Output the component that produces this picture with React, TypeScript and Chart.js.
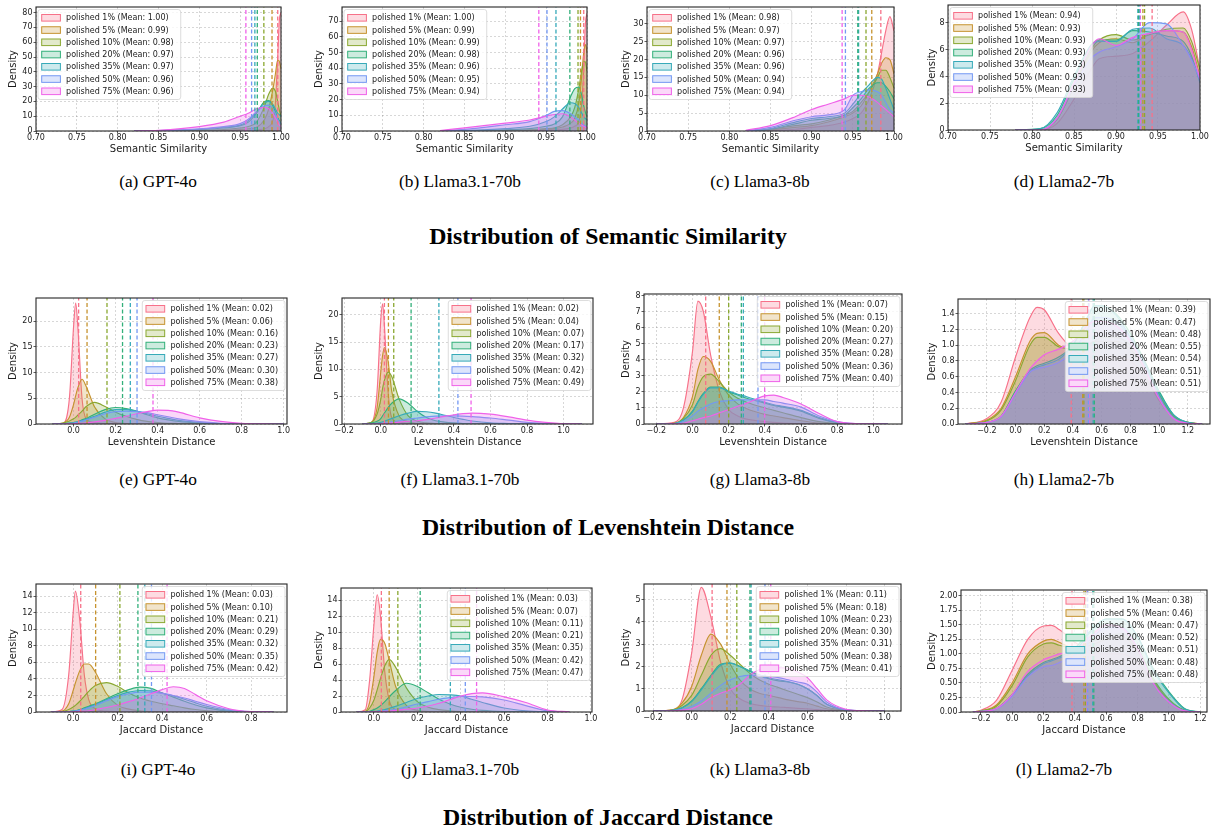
import React, { useEffect, useRef } from "react";
import { Chart, registerables } from "chart.js";
Chart.register(...registerables);

const FONT = '"DejaVu Sans", "Liberation Sans", sans-serif';
const SERIF = '"Liberation Serif", "Times New Roman", serif';
Chart.defaults.font.family = FONT;

const SERIES = ["polished 1%", "polished 5%", "polished 10%", "polished 20%", "polished 35%", "polished 50%", "polished 75%"];
const COLORS = ["#f77189", "#c6932f", "#8aa831", "#33b07a", "#37aab9", "#7498f3", "#f062e9"];

const CAPTIONS = ["(a) GPT-4o", "(b) Llama3.1-70b", "(c) Llama3-8b", "(d) Llama2-7b",
  "(e) GPT-4o", "(f) Llama3.1-70b", "(g) Llama3-8b", "(h) Llama2-7b",
  "(i) GPT-4o", "(j) Llama3.1-70b", "(k) Llama3-8b", "(l) Llama2-7b"];
const TITLES = ["Distribution of Semantic Similarity", "Distribution of Levenshtein Distance", "Distribution of Jaccard Distance"];
const X_TITLES = ["Semantic Similarity", "Levenshtein Distance", "Jaccard Distance"];

// x tick values
const SEM_XT = [0.7, 0.75, 0.8, 0.85, 0.9, 0.95, 1.0];
const E_XT = [0, 0.2, 0.4, 0.6, 0.8, 1.0];
const F_XT = [-0.2, 0, 0.2, 0.4, 0.6, 0.8, 1.0];
const H_XT = [-0.2, 0, 0.2, 0.4, 0.6, 0.8, 1.0, 1.2];
const I_XT = [0, 0.2, 0.4, 0.6, 0.8];

// ---------- (a) Semantic, GPT-4o
const A_X = [0.82, 0.85, 0.9, 0.93, 0.95, 0.96, 0.97, 0.98, 0.985, 0.99, 0.993, 0.996, 0.998, 1.0];
const A_D = [
  [0, 0, 0.2, 0.3, 0.5, 0.5, 0.8, 1.5, 3, 7, 18, 50, 75, 80],
  [0, 0, 0.3, 0.5, 1, 1.5, 2.5, 8, 15, 28, 38, 48, 47, 42],
  [0, 0.1, 0.5, 1, 2, 3, 6, 17, 25, 29, 27, 20, 14, 10],
  [0, 0.2, 1, 2, 3.5, 6, 12, 20, 20.5, 17, 13, 9, 7, 5],
  [0, 0.2, 1.2, 2.5, 4, 7, 13, 19, 20, 18, 15, 12, 11, 10],
  [0, 0.3, 1.5, 3, 5, 8, 13, 17, 17.5, 15, 12, 8, 6, 5],
  [0, 0.5, 3, 6, 10, 12, 15, 16, 15, 12, 9, 6, 4, 3],
];
const A_M = [0.996, 0.989, 0.979, 0.971, 0.968, 0.964, 0.957];
const A_YT = [0, 10, 20, 30, 40, 50, 60, 70, 80];

// ---------- (b) Semantic, Llama3.1-70b
const B_X = [0.82, 0.85, 0.9, 0.93, 0.95, 0.96, 0.97, 0.98, 0.985, 0.99, 0.993, 0.996, 0.998, 1.0];
const B_D = [
  [0, 0, 0.2, 0.4, 0.6, 0.8, 1, 2, 3, 6, 15, 40, 68, 75],
  [0, 0, 0.3, 0.5, 1, 1.5, 2.5, 5, 8, 18, 32, 50, 55, 50],
  [0, 0, 0.4, 0.8, 1.5, 2, 4, 9, 15, 27, 37, 44, 44, 38],
  [0, 0.2, 0.8, 1.5, 3, 4.5, 9, 22, 27, 28, 24, 16, 12, 9],
  [0, 0.3, 1.5, 3, 6, 9, 14, 18, 17.5, 15, 12, 9, 8, 7],
  [0, 1, 4, 6, 10, 12.5, 13, 11, 9, 7, 5, 4, 3, 3],
  [0.3, 2, 5, 7, 9.5, 10.5, 11, 9, 7, 5, 4, 3, 2.5, 2],
];
const B_M = [0.996, 0.992, 0.989, 0.979, 0.962, 0.951, 0.941];
const B_YT = [0, 10, 20, 30, 40, 50, 60, 70];

// ---------- (c) Semantic, Llama3-8b
const C_X = [0.82, 0.85, 0.88, 0.9, 0.92, 0.94, 0.95, 0.96, 0.97, 0.98, 0.985, 0.99, 0.995, 1.0];
const C_D = [
  [0, 0.2, 0.5, 1, 1.5, 2.5, 3.5, 5, 9, 16, 22, 28, 32, 28],
  [0, 0.3, 1, 1.5, 2.5, 4, 5, 7, 11, 16, 19, 20.5, 20, 16],
  [0, 0.5, 1.5, 2, 3, 4.5, 5.5, 8, 11, 15, 17, 17, 15, 12],
  [0, 0.5, 2, 3, 3.5, 4.5, 6.5, 9, 12, 13.5, 13.5, 12.5, 11, 9],
  [0, 0.7, 2.5, 3.5, 4, 5, 7.5, 10.5, 13, 15, 14.5, 12, 9, 6],
  [0, 1, 3, 4, 4.5, 6, 10, 11, 11.5, 11, 10, 8, 6, 5],
  [0.2, 1.5, 4, 6, 7.5, 9, 10, 10, 9.5, 8, 7, 6, 5, 4],
];
const C_M = [0.984, 0.973, 0.966, 0.956, 0.957, 0.941, 0.937];
const C_YT = [0, 5, 10, 15, 20, 25, 30];

// ---------- (d) Semantic, Llama2-7b
const D_X = [0.78, 0.81, 0.83, 0.85, 0.87, 0.88, 0.9, 0.92, 0.94, 0.96, 0.98, 0.99, 1.0];
const D_D = [
  [0, 0, 0.5, 2.3, 4.5, 5.3, 5.5, 5.7, 6.6, 7.8, 8.8, 7.5, 4.5],
  [0, 0, 0.8, 3.2, 5.8, 6.5, 6.8, 6.5, 7.2, 7.4, 7.3, 6.2, 4.0],
  [0, 0, 0.8, 3.3, 6, 6.7, 7.1, 6.7, 7.1, 7.5, 7.6, 6.6, 4.5],
  [0, 0.1, 1.1, 3.8, 6.3, 6.7, 6.7, 7.4, 7.3, 7, 6.6, 5.5, 3.5],
  [0, 0.1, 1.3, 4, 6.3, 6.6, 6.6, 7.5, 7.6, 6.8, 6.3, 5.3, 3.6],
  [0, 0, 0.9, 3.3, 5.3, 5.8, 6.2, 6.8, 8.0, 7.9, 6.3, 5.2, 3.8],
  [0, 0, 0.9, 3.5, 6.2, 6.8, 6.3, 6.9, 7.2, 7.4, 7.3, 6.0, 3.8],
];
const D_M = [0.943, 0.932, 0.934, 0.927, 0.926, 0.928, 0.929];
const D_YT = [0, 2, 4, 6, 8];

// ---------- (e) Levenshtein, GPT-4o
const E_X = [-0.1, -0.05, -0.02, 0, 0.01, 0.02, 0.04, 0.06, 0.1, 0.15, 0.2, 0.25, 0.3, 0.35, 0.4, 0.45, 0.5, 0.6, 0.7, 0.8, 0.9, 1.0];
const E_D = [
  [0, 0.1, 5, 19, 23.5, 19, 5, 1, 0.3, 0.1, 0.05, 0, 0, 0, 0, 0, 0, 0, 0, 0, 0, 0],
  [0, 0.2, 1.3, 3.8, 5.5, 7, 8.7, 7.3, 3.3, 1.0, 0.3, 0.1, 0, 0, 0, 0, 0, 0, 0, 0, 0, 0],
  [0, 0.2, 0.6, 1, 1.3, 1.7, 2.5, 3.4, 4.2, 3.4, 2.3, 1.5, 0.9, 0.5, 0.3, 0.15, 0.1, 0.03, 0, 0, 0, 0],
  [0, 0.1, 0.2, 0.3, 0.4, 0.5, 0.8, 1.1, 1.9, 2.8, 3.2, 3.0, 2.5, 1.8, 1.2, 0.8, 0.5, 0.2, 0.05, 0, 0, 0],
  [0, 0.05, 0.15, 0.2, 0.3, 0.4, 0.6, 0.9, 1.5, 2.3, 2.8, 2.8, 2.5, 2.0, 1.5, 1.1, 0.7, 0.3, 0.1, 0.02, 0, 0],
  [0, 0.05, 0.12, 0.2, 0.3, 0.4, 0.55, 0.8, 1.3, 2.0, 2.4, 2.5, 2.4, 2.2, 1.8, 1.4, 1.0, 0.45, 0.15, 0.05, 0, 0],
  [0, 0, 0.03, 0.05, 0.07, 0.1, 0.15, 0.25, 0.4, 0.7, 1.1, 1.5, 2.0, 2.4, 2.7, 2.65, 2.3, 1.2, 0.5, 0.15, 0.03, 0],
];
const E_M = [0.024, 0.064, 0.159, 0.233, 0.27, 0.302, 0.378];
const E_YT = [0, 5, 10, 15, 20];

// ---------- (f) Levenshtein, Llama3.1-70b
const F_X = [-0.1, -0.05, -0.02, 0, 0.01, 0.02, 0.04, 0.06, 0.1, 0.15, 0.2, 0.25, 0.3, 0.35, 0.4, 0.45, 0.5, 0.6, 0.7, 0.8, 0.9, 1.0, 1.1];
const F_D = [
  [0, 0.3, 6, 19, 22, 18, 6, 1.2, 0.3, 0.1, 0.05, 0, 0, 0, 0, 0, 0, 0, 0, 0, 0, 0, 0],
  [0, 0.3, 3, 9.5, 12.5, 14, 11.5, 6, 1.5, 0.4, 0.1, 0, 0, 0, 0, 0, 0, 0, 0, 0, 0, 0, 0],
  [0, 0.3, 1.8, 4.5, 6.5, 8, 9.5, 8.7, 4.6, 1.5, 0.5, 0.2, 0.1, 0, 0, 0, 0, 0, 0, 0, 0, 0, 0],
  [0, 0.2, 0.5, 1, 1.5, 2, 3, 3.8, 4.6, 3.8, 2.3, 1.2, 0.6, 0.35, 0.2, 0.1, 0.05, 0, 0, 0, 0, 0, 0],
  [0, 0.05, 0.15, 0.3, 0.4, 0.5, 0.75, 1, 1.5, 2, 2.3, 2.25, 2.0, 1.6, 1.2, 0.85, 0.55, 0.2, 0.08, 0, 0, 0, 0],
  [0, 0, 0.05, 0.1, 0.15, 0.2, 0.3, 0.4, 0.6, 0.9, 1.1, 1.3, 1.45, 1.5, 1.5, 1.45, 1.35, 1.1, 0.7, 0.3, 0.1, 0, 0],
  [0, 0, 0, 0.05, 0.08, 0.1, 0.15, 0.2, 0.35, 0.5, 0.6, 0.8, 1.1, 1.4, 1.7, 1.9, 2.0, 1.8, 1.3, 0.7, 0.3, 0.05, 0],
];
const F_M = [0.02, 0.042, 0.071, 0.166, 0.318, 0.422, 0.494];
const F_YT = [0, 5, 10, 15, 20];

// ---------- (g) Levenshtein, Llama3-8b
const G_X = [-0.2, -0.1, -0.05, 0, 0.03, 0.06, 0.1, 0.15, 0.2, 0.25, 0.3, 0.4, 0.45, 0.5, 0.6, 0.7, 0.8, 0.9, 1.0, 1.08];
const G_D = [
  [0, 0.1, 1, 4.5, 7.65, 7.0, 4.3, 2.0, 0.9, 0.5, 0.3, 0.15, 0.1, 0.05, 0.02, 0, 0, 0, 0, 0],
  [0, 0.05, 0.4, 1.7, 3.4, 4.2, 3.9, 2.7, 1.8, 1.25, 0.95, 0.6, 0.5, 0.4, 0.2, 0.05, 0, 0, 0, 0],
  [0, 0.05, 0.35, 1.2, 2.3, 2.95, 3.1, 2.6, 2.0, 1.6, 1.35, 1.0, 0.85, 0.7, 0.4, 0.15, 0.03, 0, 0, 0],
  [0, 0.03, 0.25, 0.8, 1.4, 1.9, 2.3, 2.3, 2.0, 1.8, 1.6, 1.3, 1.15, 1.05, 0.8, 0.35, 0.08, 0.01, 0, 0],
  [0, 0.03, 0.25, 0.75, 1.35, 1.85, 2.25, 2.25, 2.05, 1.85, 1.7, 1.35, 1.2, 1.1, 0.85, 0.4, 0.1, 0.01, 0, 0],
  [0, 0.02, 0.15, 0.5, 0.8, 1.0, 1.25, 1.4, 1.45, 1.5, 1.5, 1.5, 1.4, 1.3, 1.05, 0.5, 0.15, 0.02, 0, 0],
  [0, 0.01, 0.05, 0.2, 0.3, 0.4, 0.5, 0.7, 0.9, 1.1, 1.3, 1.75, 1.8, 1.65, 1.25, 0.65, 0.15, 0.03, 0.01, 0],
];
const G_M = [0.073, 0.148, 0.2, 0.27, 0.281, 0.362, 0.399];
const G_YT = [0, 1, 2, 3, 4, 5, 6, 7, 8];

// ---------- (h) Levenshtein, Llama2-7b
const H_X = [-0.35, -0.2, -0.1, 0, 0.1, 0.15, 0.2, 0.3, 0.4, 0.5, 0.55, 0.6, 0.7, 0.8, 0.9, 1.0, 1.1, 1.2, 1.3];
const H_D = [
  [0, 0.07, 0.28, 0.85, 1.35, 1.48, 1.45, 1.15, 0.95, 0.85, 0.85, 0.85, 0.85, 0.8, 0.6, 0.3, 0.08, 0.02, 0],
  [0, 0.05, 0.2, 0.6, 1.05, 1.15, 1.16, 1.0, 0.95, 1.0, 1.05, 1.05, 1.05, 0.95, 0.7, 0.35, 0.1, 0.02, 0],
  [0, 0.04, 0.18, 0.55, 1.0, 1.1, 1.1, 0.98, 0.95, 1.0, 1.05, 1.1, 1.1, 1.0, 0.75, 0.38, 0.1, 0.02, 0],
  [0, 0.02, 0.1, 0.42, 0.68, 0.74, 0.77, 0.85, 1.0, 1.35, 1.5, 1.5, 1.4, 1.15, 0.8, 0.42, 0.12, 0.02, 0],
  [0, 0.02, 0.1, 0.4, 0.66, 0.72, 0.75, 0.82, 1.0, 1.35, 1.5, 1.5, 1.38, 1.1, 0.78, 0.4, 0.12, 0.02, 0],
  [0, 0.02, 0.09, 0.38, 0.66, 0.7, 0.72, 0.78, 0.92, 1.2, 1.35, 1.35, 1.3, 1.1, 0.75, 0.35, 0.08, 0.01, 0],
  [0, 0.02, 0.1, 0.4, 0.7, 0.8, 0.88, 0.95, 1.05, 1.25, 1.3, 1.3, 1.25, 1.05, 0.7, 0.32, 0.07, 0.01, 0],
];
const H_M = [0.388, 0.468, 0.476, 0.549, 0.541, 0.508, 0.512];
const H_YT = [0, 0.2, 0.4, 0.6, 0.8, 1.0, 1.2, 1.4];

// ---------- (i) Jaccard, GPT-4o
const I_X = [-0.1, -0.05, -0.02, 0, 0.01, 0.03, 0.05, 0.07, 0.1, 0.15, 0.2, 0.25, 0.3, 0.35, 0.4, 0.45, 0.5, 0.55, 0.6, 0.7, 0.8, 0.9];
const I_D = [
  [0, 0.3, 4.5, 12, 14.6, 11, 4.5, 1.5, 0.4, 0.1, 0.05, 0, 0, 0, 0, 0, 0, 0, 0, 0, 0, 0],
  [0, 0.1, 1, 2.6, 3.5, 5, 5.8, 5.8, 4.8, 2.2, 0.8, 0.35, 0.15, 0.05, 0, 0, 0, 0, 0, 0, 0, 0],
  [0, 0.05, 0.3, 0.6, 0.8, 1.3, 1.9, 2.5, 3.2, 3.55, 3.1, 2.3, 1.7, 1.3, 1.0, 0.75, 0.5, 0.3, 0.15, 0.03, 0, 0],
  [0, 0, 0.03, 0.1, 0.15, 0.3, 0.5, 0.7, 1.0, 1.6, 2.2, 2.7, 3.0, 2.85, 2.3, 1.8, 1.3, 0.85, 0.5, 0.1, 0.02, 0],
  [0, 0, 0.03, 0.1, 0.15, 0.25, 0.4, 0.6, 0.9, 1.5, 2.0, 2.4, 2.6, 2.55, 2.3, 1.95, 1.55, 1.1, 0.7, 0.2, 0.03, 0],
  [0, 0, 0.02, 0.08, 0.12, 0.2, 0.35, 0.5, 0.8, 1.35, 1.85, 2.2, 2.4, 2.4, 2.25, 2.0, 1.7, 1.3, 0.9, 0.3, 0.05, 0],
  [0, 0, 0, 0.02, 0.04, 0.07, 0.1, 0.15, 0.3, 0.55, 0.85, 1.25, 1.7, 2.2, 2.7, 3.05, 2.85, 2.1, 1.35, 0.4, 0.05, 0],
];
const I_M = [0.034, 0.101, 0.21, 0.291, 0.322, 0.352, 0.422];
const I_YT = [0, 2, 4, 6, 8, 10, 12, 14];

// ---------- (j) Jaccard, Llama3.1-70b
const J_X = [-0.08, -0.04, -0.02, 0, 0.015, 0.03, 0.05, 0.07, 0.1, 0.15, 0.2, 0.25, 0.3, 0.35, 0.4, 0.45, 0.5, 0.6, 0.7, 0.8, 0.9];
const J_D = [
  [0, 0.3, 4, 11, 14.7, 12, 5, 1.5, 0.3, 0.05, 0, 0, 0, 0, 0, 0, 0, 0, 0, 0, 0],
  [0, 0.1, 1.2, 4.5, 7.5, 9.1, 8.6, 6.5, 3.2, 0.8, 0.2, 0.05, 0, 0, 0, 0, 0, 0, 0, 0, 0],
  [0, 0.05, 0.5, 1.5, 2.8, 4.2, 5.8, 6.6, 5.6, 3.0, 1.3, 0.6, 0.3, 0.15, 0.05, 0, 0, 0, 0, 0, 0],
  [0, 0.02, 0.1, 0.3, 0.5, 0.8, 1.3, 1.9, 2.7, 3.6, 3.2, 2.4, 1.6, 1.0, 0.6, 0.35, 0.2, 0.05, 0, 0, 0],
  [0, 0, 0.02, 0.07, 0.12, 0.2, 0.3, 0.45, 0.7, 1.2, 1.7, 2.0, 2.2, 2.15, 2.0, 1.6, 1.2, 0.5, 0.15, 0.03, 0],
  [0, 0, 0.01, 0.03, 0.06, 0.1, 0.15, 0.22, 0.35, 0.65, 1.0, 1.3, 1.6, 1.8, 1.95, 1.95, 1.9, 1.5, 0.8, 0.15, 0.02],
  [0, 0, 0, 0.02, 0.03, 0.05, 0.08, 0.12, 0.2, 0.35, 0.5, 0.75, 1.1, 1.55, 2.0, 2.3, 2.4, 1.9, 1.2, 0.25, 0.03],
];
const J_M = [0.034, 0.07, 0.11, 0.213, 0.352, 0.421, 0.473];
const J_YT = [0, 2, 4, 6, 8, 10, 12, 14];

// ---------- (k) Jaccard, Llama3-8b
const K_X = [-0.2, -0.1, -0.05, 0, 0.05, 0.1, 0.15, 0.2, 0.25, 0.3, 0.35, 0.4, 0.45, 0.5, 0.55, 0.6, 0.65, 0.7, 0.8, 0.9, 1.0];
const K_D = [
  [0, 0.05, 0.5, 2.6, 5.55, 4.2, 2.2, 1.0, 0.55, 0.35, 0.25, 0.2, 0.18, 0.15, 0.12, 0.1, 0.06, 0.03, 0, 0, 0],
  [0, 0.05, 0.35, 1.1, 2.5, 3.45, 3.0, 2.1, 1.4, 1.0, 0.8, 0.7, 0.6, 0.5, 0.42, 0.35, 0.22, 0.1, 0.02, 0, 0],
  [0, 0.04, 0.25, 0.7, 1.6, 2.5, 2.8, 2.5, 2.1, 1.7, 1.4, 1.2, 1.05, 0.9, 0.75, 0.6, 0.4, 0.18, 0.03, 0, 0],
  [0, 0.03, 0.15, 0.45, 1.0, 1.6, 2.1, 2.15, 2.0, 1.8, 1.6, 1.45, 1.35, 1.3, 1.2, 1.0, 0.7, 0.3, 0.05, 0, 0],
  [0, 0.03, 0.14, 0.42, 0.95, 1.55, 2.05, 2.15, 2.0, 1.8, 1.62, 1.48, 1.4, 1.32, 1.2, 1.0, 0.68, 0.3, 0.05, 0, 0],
  [0, 0.02, 0.07, 0.2, 0.45, 0.8, 1.15, 1.4, 1.55, 1.6, 1.6, 1.55, 1.5, 1.4, 1.3, 1.2, 0.85, 0.4, 0.05, 0.01, 0],
  [0, 0.01, 0.04, 0.1, 0.3, 0.6, 0.8, 0.95, 1.2, 1.6, 1.85, 1.95, 1.95, 1.9, 1.75, 1.5, 1.0, 0.5, 0.08, 0.01, 0],
];
const K_M = [0.106, 0.183, 0.234, 0.302, 0.308, 0.38, 0.41];
const K_YT = [0, 1, 2, 3, 4, 5];

// ---------- (l) Jaccard, Llama2-7b
const L_X = [-0.25, -0.2, -0.1, 0, 0.1, 0.2, 0.25, 0.3, 0.4, 0.5, 0.6, 0.7, 0.8, 0.9, 1.0, 1.1, 1.2];
const L_D = [
  [0, 0.03, 0.2, 0.72, 1.25, 1.48, 1.49, 1.42, 1.2, 1.05, 1.0, 1.0, 0.85, 0.5, 0.18, 0.03, 0],
  [0, 0.02, 0.12, 0.5, 1.0, 1.22, 1.25, 1.2, 1.1, 1.15, 1.25, 1.3, 1.05, 0.55, 0.2, 0.03, 0],
  [0, 0.02, 0.1, 0.45, 0.95, 1.17, 1.19, 1.15, 1.1, 1.2, 1.3, 1.35, 1.1, 0.58, 0.22, 0.03, 0],
  [0, 0.01, 0.06, 0.3, 0.65, 0.85, 0.9, 0.95, 1.1, 1.4, 1.6, 1.6, 1.3, 0.75, 0.35, 0.06, 0],
  [0, 0.01, 0.06, 0.28, 0.62, 0.83, 0.88, 0.93, 1.05, 1.38, 1.6, 1.6, 1.3, 0.72, 0.33, 0.05, 0],
  [0, 0.01, 0.05, 0.27, 0.6, 0.78, 0.8, 0.85, 0.98, 1.25, 1.45, 1.45, 1.1, 0.5, 0.18, 0.02, 0],
  [0, 0.01, 0.06, 0.3, 0.7, 0.9, 0.95, 1.0, 1.05, 1.3, 1.5, 1.45, 1.1, 0.5, 0.17, 0.02, 0],
];
const L_M = [0.382, 0.458, 0.468, 0.521, 0.514, 0.482, 0.478];
const L_YT = [0, 0.25, 0.5, 0.75, 1.0, 1.25, 1.5, 1.75, 2.0];

// ---------- layout (plot rectangles: left, top, right, bottom in page px)
const COL_YTITLE_X = [12.7, 319.3, 625.7, 931.7];
const CAPTION_X = [158, 460, 760, 1064];
const CAPTION_Y = [184, 482, 772];
const TITLE_Y = [236, 527, 817];
const TITLE_X = 608;
const LEGEND_TEXT_W = 107.6;

const PANELS = [
  { key: "a", row: 0, col: 0, rect: [36, 7, 281, 131], xs: A_X, dens: A_D, means: A_M, xMin: 0.7, xMax: 1.0, xTicks: SEM_XT, xDec: 2, yMax: 83.8, yTicks: A_YT, yDec: 0, side: "left" },
  { key: "b", row: 0, col: 1, rect: [342, 7, 587, 131], xs: B_X, dens: B_D, means: B_M, xMin: 0.7, xMax: 1.0, xTicks: SEM_XT, xDec: 2, yMax: 79, yTicks: B_YT, yDec: 0, side: "left" },
  { key: "c", row: 0, col: 2, rect: [647, 7, 894, 131], xs: C_X, dens: C_D, means: C_M, xMin: 0.7, xMax: 1.0, xTicks: SEM_XT, xDec: 2, yMax: 34.7, yTicks: C_YT, yDec: 0, side: "left" },
  { key: "d", row: 0, col: 3, rect: [948, 5, 1200, 130], xs: D_X, dens: D_D, means: D_M, xMin: 0.7, xMax: 1.0, xTicks: SEM_XT, xDec: 2, yMax: 9.31, yTicks: D_YT, yDec: 0, side: "left" },
  { key: "e", row: 1, col: 0, rect: [36, 298, 287, 424], xs: E_X, dens: E_D, means: E_M, xMin: -0.179, xMax: 1.016, xTicks: E_XT, xDec: 1, yMax: 24.5, yTicks: E_YT, yDec: 0, side: "right" },
  { key: "f", row: 1, col: 1, rect: [342, 298, 593, 424], xs: F_X, dens: F_D, means: F_M, xMin: -0.212, xMax: 1.161, xTicks: F_XT, xDec: 1, yMax: 23.05, yTicks: F_YT, yDec: 0, side: "right" },
  { key: "g", row: 1, col: 2, rect: [644, 294, 902, 424], xs: G_X, dens: G_D, means: G_M, xMin: -0.268, xMax: 1.158, xTicks: F_XT, xDec: 1, yMax: 8.09, yTicks: G_YT, yDec: 0, side: "right" },
  { key: "h", row: 1, col: 3, rect: [958, 299, 1210, 424], xs: H_X, dens: H_D, means: H_M, xMin: -0.401, xMax: 1.355, xTicks: H_XT, xDec: 1, yMax: 1.586, yTicks: H_YT, yDec: 1, side: "right" },
  { key: "i", row: 2, col: 0, rect: [36, 584, 287, 712], xs: I_X, dens: I_D, means: I_M, xMin: -0.167, xMax: 0.961, xTicks: I_XT, xDec: 1, yMax: 15.47, yTicks: I_YT, yDec: 0, side: "right" },
  { key: "j", row: 2, col: 1, rect: [341, 588, 592, 712], xs: J_X, dens: J_D, means: J_M, xMin: -0.152, xMax: 1.005, xTicks: E_XT, xDec: 1, yMax: 15.55, yTicks: J_YT, yDec: 0, side: "right" },
  { key: "k", row: 2, col: 2, rect: [644, 584, 901, 711], xs: K_X, dens: K_D, means: K_M, xMin: -0.247, xMax: 1.085, xTicks: F_XT, xDec: 1, yMax: 5.7, yTicks: K_YT, yDec: 0, side: "right" },
  { key: "l", row: 2, col: 3, rect: [961, 590, 1207, 712], xs: L_X, dens: L_D, means: L_M, xMin: -0.326, xMax: 1.243, xTicks: H_XT, xDec: 1, yMax: 2.1, yTicks: L_YT, yDec: 2, side: "right" },
];

function rgba(hex: string, a: number) {
  const n = parseInt(hex.slice(1), 16);
  return `rgba(${n >> 16},${(n >> 8) & 255},${n & 255},${a})`;
}

function fmt(v: number, dec: number) {
  const s = Number(v).toFixed(dec);
  return s.startsWith("-") ? "\u2212" + s.slice(1) : s;
}

function geom(p: any) {
  const [L, T, R, B] = p.rect;
  const left = Math.round(COL_YTITLE_X[p.col] - 7);
  const top = T - 10;
  const padR = Math.min(14, 1217 - R);
  return { left, top, w: R + padR - left, h: B + 24 - top, yw: L - left, padR };
}

function roundRectPath(ctx: CanvasRenderingContext2D, x: number, y: number, w: number, h: number, r: number) {
  ctx.beginPath();
  ctx.moveTo(x + r, y);
  ctx.lineTo(x + w - r, y);
  ctx.arcTo(x + w, y, x + w, y + r, r);
  ctx.lineTo(x + w, y + h - r);
  ctx.arcTo(x + w, y + h, x + w - r, y + h, r);
  ctx.lineTo(x + r, y + h);
  ctx.arcTo(x, y + h, x, y + h - r, r);
  ctx.lineTo(x, y + r);
  ctx.arcTo(x, y, x + r, y, r);
  ctx.closePath();
}

function makePlugin(p: any) {
  return {
    id: "decor_" + p.key,
    afterDatasetsDraw(chart: any) {
      const { ctx, chartArea: a } = chart;
      ctx.save();
      ctx.strokeStyle = "#262626";
      ctx.lineWidth = 1.1;
      ctx.strokeRect(a.left, a.top, a.right - a.left, a.bottom - a.top);
      ctx.restore();
    },
    afterDraw(chart: any) {
      const { ctx, chartArea: a } = chart;
      ctx.save();
      const labels = SERIES.map((s, i) => `${s} (Mean: ${p.means[i].toFixed(2)})`);
      ctx.font = `10px ${FONT}`;
      const w10 = Math.max(...labels.map((t) => ctx.measureText(t).width));
      const fs = Math.min(10, (10 * LEGEND_TEXT_W) / w10);
      ctx.font = `${fs.toFixed(2)}px ${FONT}`;
      const tw = Math.max(...labels.map((t) => ctx.measureText(t).width));
      const bw = 3.7 + 18.7 + 5.7 + tw + 7;
      const bh = 90;
      const bx = p.side === "left" ? a.left + 2 : a.right - 2 - bw;
      const by = a.top + 2.5;
      roundRectPath(ctx, bx, by, bw, bh, 2.5);
      ctx.fillStyle = "rgba(255,255,255,0.8)";
      ctx.fill();
      ctx.strokeStyle = "#d4d4d4";
      ctx.lineWidth = 0.8;
      ctx.stroke();
      labels.forEach((t, i) => {
        const cy = by + 8.3 + i * 12.25;
        ctx.fillStyle = "#fff";
        ctx.fillRect(bx + 3.7, cy - 3.3, 18.7, 6.6);
        ctx.fillStyle = rgba(COLORS[i], 0.25);
        ctx.fillRect(bx + 3.7, cy - 3.3, 18.7, 6.6);
        ctx.strokeStyle = COLORS[i];
        ctx.lineWidth = 1;
        ctx.strokeRect(bx + 3.7, cy - 3.3, 18.7, 6.6);
        ctx.fillStyle = "#1a1a1a";
        ctx.textBaseline = "middle";
        ctx.textAlign = "left";
        ctx.fillText(t, bx + 28.1, cy + 0.5);
      });
      ctx.restore();
    },
  };
}

function buildConfig(p: any, g: any) {
  const kde = p.dens.map((ys: number[], i: number) => ({
    type: "line",
    label: SERIES[i],
    data: p.xs.map((x: number, j: number) => ({ x, y: ys[j] })),
    borderColor: COLORS[i],
    backgroundColor: rgba(COLORS[i], 0.25),
    borderWidth: 1.15,
    fill: "origin",
    pointRadius: 0,
    cubicInterpolationMode: "monotone",
    order: 20 - i,
  }));
  const meanLines = p.means.map((m: number, i: number) => ({
    type: "line",
    label: SERIES[i] + " mean",
    data: [{ x: m, y: 0 }, { x: m, y: p.yMax }],
    borderColor: COLORS[i],
    borderWidth: 1.3,
    borderDash: [4, 2.5],
    fill: false,
    pointRadius: 0,
    order: 1,
  }));
  const tickFont = { family: FONT, size: 8, lineHeight: 1 };
  const titleFont = { family: FONT, size: 10, lineHeight: 1.2 };
  const grid = { color: "rgba(0,0,0,0.2)", lineWidth: 0.8, tickLength: 2.5, tickColor: "#333", tickWidth: 0.8, drawTicks: true };
  return {
    type: "line",
    data: { datasets: [...kde, ...meanLines] },
    plugins: [makePlugin(p)],
    options: {
      responsive: false,
      animation: false,
      events: [],
      layout: { padding: { left: 0, top: 10, right: g.padR, bottom: 0 } },
      plugins: { legend: { display: false }, tooltip: { enabled: false }, title: { display: false } },
      scales: {
        x: {
          type: "linear",
          min: p.xMin,
          max: p.xMax,
          bounds: "data",
          afterBuildTicks: (s: any) => { s.ticks = p.xTicks.map((v: number) => ({ value: v })); },
          afterFit: (s: any) => { s.height = 24; },
          ticks: { callback: (v: any) => fmt(v, p.xDec), autoSkip: false, maxRotation: 0, minRotation: 0, padding: 0, color: "#1a1a1a", font: tickFont },
          grid,
          border: { display: false, dash: [2, 2] },
          title: { display: true, text: X_TITLES[p.row], color: "#1a1a1a", font: titleFont, padding: { top: 0, bottom: 0 } },
        },
        y: {
          type: "linear",
          min: 0,
          max: p.yMax,
          bounds: "data",
          afterBuildTicks: (s: any) => { s.ticks = p.yTicks.map((v: number) => ({ value: v })); },
          afterFit: (s: any) => { s.width = g.yw; },
          ticks: { callback: (v: any) => fmt(v, p.yDec), autoSkip: false, padding: 1, color: "#1a1a1a", font: tickFont },
          grid,
          border: { display: false, dash: [2, 2] },
          title: { display: true, text: "Density", color: "#1a1a1a", font: titleFont, padding: { top: 1, bottom: 0 } },
        },
      },
    },
  };
}

function Panel({ p }: { p: any }) {
  const ref = useRef<HTMLCanvasElement | null>(null);
  const g = geom(p);
  useEffect(() => {
    const chart = new Chart(ref.current as HTMLCanvasElement, buildConfig(p, g) as any);
    return () => chart.destroy();
  }, []);
  return (
    <canvas
      ref={ref}
      width={g.w}
      height={g.h}
      style={{ position: "absolute", left: g.left, top: g.top, width: g.w, height: g.h }}
    />
  );
}

export default function App() {
  return (
    <div style={{ position: "absolute", left: 0, top: 0, width: 1217, height: 832, overflow: "hidden", background: "#fff" }}>
      {PANELS.map((p) => (
        <Panel key={p.key} p={p} />
      ))}
      {CAPTIONS.map((c, i) => (
        <div
          key={c}
          style={{
            position: "absolute",
            left: CAPTION_X[i % 4] - 120,
            width: 240,
            top: CAPTION_Y[Math.floor(i / 4)] - 11.8,
            textAlign: "center",
            fontFamily: SERIF,
            fontSize: 17.3,
            lineHeight: "20px",
            color: "#000",
            whiteSpace: "nowrap",
          }}
        >
          {c}
        </div>
      ))}
      {TITLES.map((t, i) => (
        <div
          key={t}
          style={{
            position: "absolute",
            left: TITLE_X - 300,
            width: 600,
            top: TITLE_Y[i] - 14.1,
            textAlign: "center",
            fontFamily: SERIF,
            fontWeight: "bold",
            fontSize: 23.8,
            lineHeight: "28px",
            color: "#000",
            whiteSpace: "nowrap",
          }}
        >
          {t}
        </div>
      ))}
    </div>
  );
}
